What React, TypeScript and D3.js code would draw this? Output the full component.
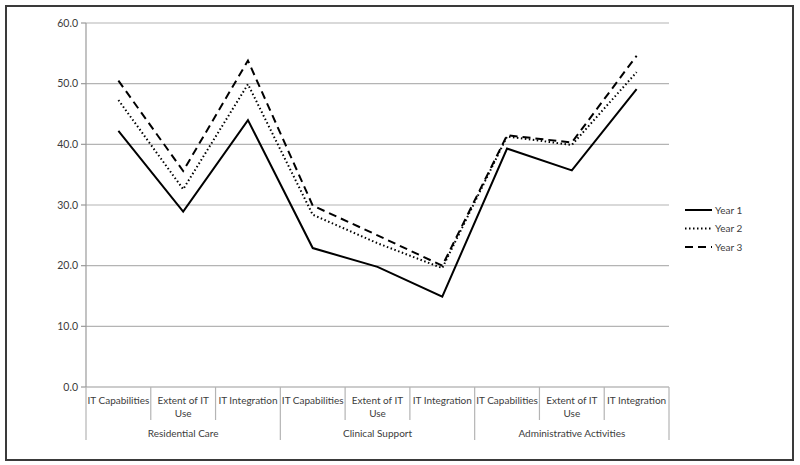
import { useEffect, useRef } from "react";
import * as d3 from "d3";

// groups and their sub categories
const groups = ["Residential Care", "Clinical Support", "Administrative Activities"];
const subCategories = ["IT Capabilities", "Extent of IT Use", "IT Integration"];

const seriesNames = ["Year 1", "Year 2", "Year 3"];
const year1 = [42.2, 28.9, 44.0, 22.9, 19.8, 14.9, 39.3, 35.7, 49.1];
const year2 = [47.3, 32.6, 49.9, 28.4, 23.7, 19.6, 41.3, 39.9, 51.9];
const year3 = [50.5, 35.6, 53.8, 29.9, 25.0, 20.0, 41.5, 40.3, 54.6];

const yTicks = [0, 10, 20, 30, 40, 50, 60];

export default function App() {
  const ref = useRef<SVGSVGElement>(null);

  useEffect(() => {
    const svg = d3.select(ref.current);
    svg.selectAll("*").remove();
    const W = 800, H = 465;
    const left = 86, right = 669, top = 23, bottom = 387;
    const font = "Lato, 'Liberation Sans', sans-serif";
    const textCol = "#3c3c3c";

    svg.append("rect").attr("width", W).attr("height", H).attr("fill", "#fff");
    svg.append("rect")
      .attr("x", 6).attr("y", 6).attr("width", 787).attr("height", 454)
      .attr("fill", "#fff").attr("stroke", "#3a3a3a").attr("stroke-width", 2);

    const cats: string[] = [];
    groups.forEach(g => subCategories.forEach(s => cats.push(g + "|" + s)));

    const x = d3.scaleBand().domain(cats).range([left, right]).padding(0);
    const y = d3.scaleLinear().domain([0, 60]).range([bottom, top]);

    // gridlines
    svg.append("g").selectAll("line").data(yTicks.filter(t => t > 0)).join("line")
      .attr("x1", left).attr("x2", right)
      .attr("y1", d => y(d)).attr("y2", d => y(d))
      .attr("stroke", "#b4b4b4").attr("stroke-width", 1.2);

    // y axis
    svg.append("line").attr("x1", left).attr("x2", left).attr("y1", top).attr("y2", bottom)
      .attr("stroke", "#9a9a9a").attr("stroke-width", 1.2);
    svg.append("g").selectAll("line").data(yTicks).join("line")
      .attr("x1", left - 5).attr("x2", left)
      .attr("y1", d => y(d)).attr("y2", d => y(d))
      .attr("stroke", "#9a9a9a").attr("stroke-width", 1.2);
    svg.append("g").selectAll("text").data(yTicks).join("text")
      .attr("x", left - 8).attr("y", d => y(d)).attr("dy", "0.35em")
      .attr("text-anchor", "end").attr("font-family", font).attr("font-size", 10.5)
      .attr("fill", textCol).text(d => d3.format(".1f")(d));

    // x axis line
    svg.append("line").attr("x1", left).attr("x2", right).attr("y1", bottom).attr("y2", bottom)
      .attr("stroke", "#9a9a9a").attr("stroke-width", 1.2);

    // category separators
    const bounds = cats.map(c => x(c)!).concat([right]);
    svg.append("g").selectAll("line").data(bounds).join("line")
      .attr("x1", d => d).attr("x2", d => d)
      .attr("y1", bottom)
      .attr("y2", (d, i) => (i % 3 === 0 ? 440 : 420))
      .attr("stroke", "#b4b4b4").attr("stroke-width", 1.2);

    // category labels, wrapped to the band
    const bw = x.bandwidth();
    const lab = svg.append("g").attr("font-family", font).attr("font-size", 10).attr("fill", textCol)
      .attr("text-anchor", "middle");
    cats.forEach(c => {
      const label = c.split("|")[1];
      const cx = x(c)! + bw / 2;
      const t = lab.append("text").attr("x", cx).attr("y", 404).text(label);
      const len = (t.node() as SVGTextElement).getComputedTextLength();
      if (len > bw - 2) {
        const words = label.split(" ");
        const last = words.pop()!;
        t.text(words.join(" "));
        lab.append("text").attr("x", cx).attr("y", 417).text(last);
      }
    });
    groups.forEach(g => {
      const x0 = x(g + "|" + subCategories[0])!;
      lab.append("text").attr("x", x0 + bw * 1.5).attr("y", 437).text(g);
    });

    // series
    const series = [year1, year2, year3];
    const dashes = ["none", "1.5,2.5", "8,5"];
    const line = d3.line<number>().x((d, i) => x(cats[i])! + bw / 2).y(d => y(d));
    series.forEach((s, i) => {
      svg.append("path").attr("d", line(s)!).attr("fill", "none")
        .attr("stroke", "#000").attr("stroke-width", 2)
        .attr("stroke-dasharray", dashes[i]).attr("stroke-linejoin", "miter");
    });

    // legend
    const lg = svg.append("g").attr("font-family", font).attr("font-size", 10).attr("fill", textCol);
    seriesNames.forEach((n, i) => {
      const ly = 210 + i * 18.5;
      lg.append("line").attr("x1", 685).attr("x2", 712).attr("y1", ly).attr("y2", ly)
        .attr("stroke", "#000").attr("stroke-width", 2).attr("stroke-dasharray", dashes[i]);
      lg.append("text").attr("x", 715).attr("y", ly).attr("dy", "0.35em").text(n);
    });
  }, []);

  return (
    <svg ref={ref} width={800} height={465}
      style={{ position: "absolute", left: 0, top: 0, display: "block" }} />
  );
}
